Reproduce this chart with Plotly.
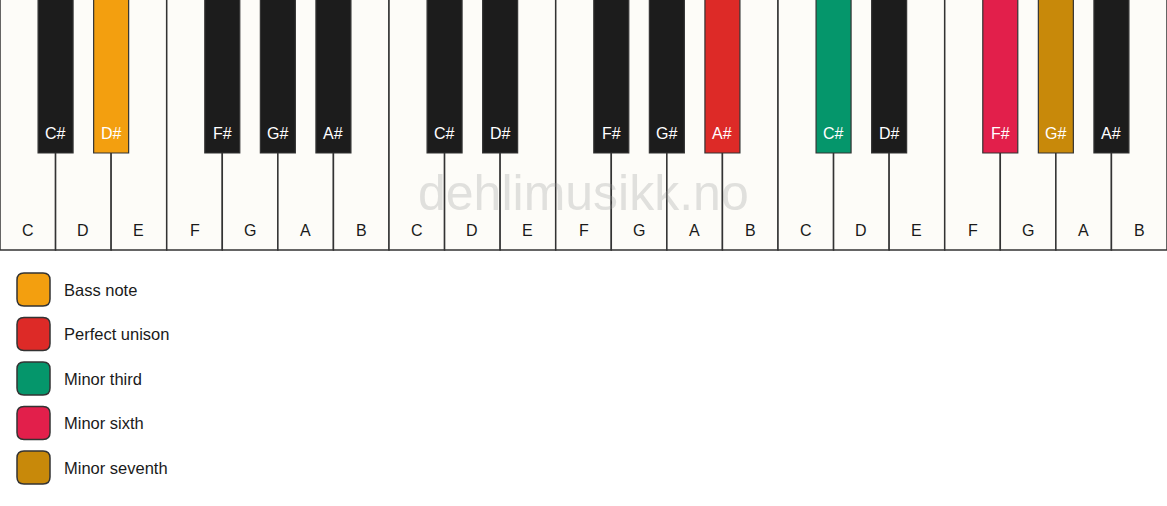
import plotly.graph_objects as go

# ---- data ----
white_names = ["C", "D", "E", "F", "G", "A", "B"]
black_names = ["C#", "D#", "F#", "G#", "A#"]
black_after_white = [0, 1, 3, 4, 5]   # index of white key to the left of each black key
octaves = 3

# highlighted keys: (octave index, note name) -> legend group
highlight_keys = [(0, "D#"), (1, "A#"), (2, "C#"), (2, "F#"), (2, "G#")]
highlight_groups = ["Bass note", "Perfect unison", "Minor third", "Minor sixth", "Minor seventh"]

legend_labels = ["Bass note", "Perfect unison", "Minor third", "Minor sixth", "Minor seventh"]
legend_colors = ["#F39F0F", "#DD2A27", "#05966B", "#E21F4B", "#C8890A"]

watermark = "dehlimusikk.no"

# ---- style / geometry ----
W, H = 1167, 506
n_white = len(white_names) * octaves
KEY_PX = W / n_white            # pixel width of one white key (x-axis unit)
WHITE_H = 250
BLACK_H = 153
BLACK_W = 35 / KEY_PX
WHITE_FILL = "#FDFCF8"
BLACK_FILL = "#1C1C1C"
LINE = "#333333"
FONT = "Liberation Sans, Arial, sans-serif"

color_of = dict(zip(legend_labels, legend_colors))
hl = {k: color_of[g] for k, g in zip(highlight_keys, highlight_groups)}

fig = go.Figure()
shapes = []
annotations = []

# white keys
for o in range(octaves):
    for i, name in enumerate(white_names):
        x0 = o * len(white_names) + i
        shapes.append(dict(type="rect", xref="x", yref="y", x0=x0, x1=x0 + 1, y0=-2, y1=WHITE_H,
                           fillcolor=WHITE_FILL, line=dict(color=LINE, width=1.5), layer="below"))
        annotations.append(dict(x=x0 + 0.5, y=230, xref="x", yref="y", text=name, showarrow=False,
                                font=dict(family=FONT, size=16, color="#1a1a1a")))

# black keys
for o in range(octaves):
    for name, wi in zip(black_names, black_after_white):
        xc = o * len(white_names) + wi + 1
        fill = hl.get((o, name), BLACK_FILL)
        shapes.append(dict(type="rect", xref="x", yref="y", x0=xc - BLACK_W / 2, x1=xc + BLACK_W / 2,
                           y0=-2, y1=BLACK_H, fillcolor=fill, line=dict(color=LINE, width=1.2)))
        annotations.append(dict(x=xc, y=133, xref="x", yref="y", text=name, showarrow=False,
                                font=dict(family=FONT, size=16, color="white")))

# watermark
annotations.append(dict(x=n_white / 2, y=193, xref="x", yref="y", text=watermark, showarrow=False,
                        font=dict(family=FONT, size=50, color="rgba(150,150,150,0.28)")))

# legend boxes
def rounded(x0, y0, x1, y1, r):
    rx = r / KEY_PX
    return (f"M {x0+rx},{y0} L {x1-rx},{y0} Q {x1},{y0} {x1},{y0+r} L {x1},{y1-r} "
            f"Q {x1},{y1} {x1-rx},{y1} L {x0+rx},{y1} Q {x0},{y1} {x0},{y1-r} "
            f"L {x0},{y0+r} Q {x0},{y0} {x0+rx},{y0} Z")

for j, (lab, col) in enumerate(zip(legend_labels, legend_colors)):
    yc = 289.5 + j * 44.5
    bx0, bx1 = 17 / KEY_PX, 50 / KEY_PX
    shapes.append(dict(type="path", xref="x", yref="y", path=rounded(bx0, yc - 16.5, bx1, yc + 16.5, 7),
                       fillcolor=col, line=dict(color=LINE, width=1.5)))
    annotations.append(dict(x=62 / KEY_PX, y=yc, xref="x", yref="y", text=lab, showarrow=False,
                            xanchor="left", font=dict(family=FONT, size=16.5, color="#1a1a1a")))

fig.update_layout(
    width=W, height=H,
    margin=dict(l=0, r=0, t=0, b=0),
    paper_bgcolor="white", plot_bgcolor="white",
    shapes=shapes, annotations=annotations,
    xaxis=dict(range=[0, n_white], visible=False, fixedrange=True),
    yaxis=dict(range=[H, 0], visible=False, fixedrange=True),
    showlegend=False,
)
fig.write_html("out.html", config={"displayModeBar": False},
               post_script="document.body.style.margin='0';document.body.style.overflow='hidden';")
